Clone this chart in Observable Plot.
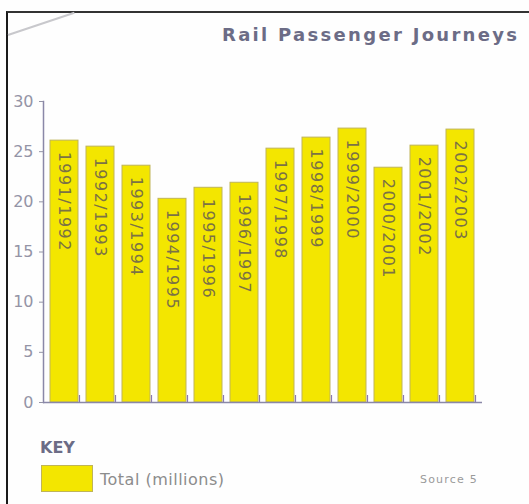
<!DOCTYPE html>
<html>
<head>
<meta charset="utf-8">
<script src="https://cdn.jsdelivr.net/npm/d3@7"></script>
<script src="https://cdn.jsdelivr.net/npm/@observablehq/plot@0.6"></script>
<style>
  html, body { margin: 0; padding: 0; background: #fefefe; overflow: hidden; }
  #wrap { position: relative; width: 529px; height: 504px; overflow: hidden; background: #fefefe; font-family: "DejaVu Sans", sans-serif; }
  #border { position: absolute; left: 6px; top: 11px; width: 600px; height: 600px; border-left: 2px solid #1a1a1a; border-top: 2px solid #333; }
  #diag { position: absolute; left: 8px; top: 34px; width: 70px; height: 2px; background: #c8c8cc; transform-origin: 0 50%; transform: rotate(-18.5deg); }
  #title { position: absolute; left: 222px; top: 25px; font-size: 18px; font-weight: bold; color: #6c6c86; white-space: nowrap; letter-spacing: 2.3px; line-height: 20px; }
  #chart { position: absolute; left: 0; top: 0; }
  #chart g[aria-label="text"] text { letter-spacing: 1.5px; }
  #key { position: absolute; left: 40px; top: 439px; font-size: 16px; font-weight: bold; color: #6c6c86; line-height: 18px; }
  #swatch { position: absolute; left: 41px; top: 465px; width: 50px; height: 25px; background: #f3e600; border: 1px solid #bfb458; }
  #keylabel { position: absolute; left: 100px; top: 470px; font-size: 16px; color: #8c8c8c; letter-spacing: 0.5px; line-height: 20px; white-space: nowrap; }
  #source { position: absolute; left: 420px; top: 473px; font-size: 11px; color: #9a9a9a; letter-spacing: 1.2px; white-space: nowrap; }
</style>
</head>
<body>
<div id="wrap">
  <div id="border"></div>
  <div id="diag"></div>
  <div id="title">Rail Passenger Journeys</div>
  <div id="chart"></div>
  <div id="key">KEY</div>
  <div id="swatch"></div>
  <div id="keylabel">Total (millions)</div>
  <div id="source">Source 5</div>
</div>
<script>
const seasons = ["1991/1992", "1992/1993", "1993/1994", "1994/1995", "1995/1996", "1996/1997",
                 "1997/1998", "1998/1999", "1999/2000", "2000/2001", "2001/2002", "2002/2003"];
const journeys = [26.1, 25.5, 23.6, 20.3, 21.4, 21.9, 25.3, 26.4, 27.3, 23.4, 25.6, 27.2];
const yTicks = [0, 5, 10, 15, 20, 25, 30];

const data = seasons.map((s, i) => ({season: s, value: journeys[i]}));

const chart = Plot.plot({
  width: 529,
  height: 430,
  marginLeft: 43,
  marginRight: 47,
  marginTop: 101,
  marginBottom: 28,
  style: {background: "transparent", fontFamily: "DejaVu Sans", color: "#9494a6", overflow: "visible"},
  x: {domain: seasons, paddingInner: 0.22, paddingOuter: 0.13, axis: null},
  y: {domain: [0, 30], axis: null},
  marks: [
    Plot.barY(data, {x: "season", y: "value", fill: "#f3e600", stroke: "#bfb458", strokeWidth: 1}),
    Plot.text(data, {x: "season", y: "value", text: "season", rotate: 90, textAnchor: "start", dy: 11, fontSize: 16, fill: "#7b7244"}),
    Plot.ruleY([0], {stroke: "#8a88a8", strokeWidth: 1.5}),
    Plot.frame({anchor: "left", stroke: "#8a88a8", strokeWidth: 1.5}),
    Plot.ruleX(data, {x: "season", y1: 0, y2: 0.7, dx: 15, stroke: "#8a7ab0", strokeWidth: 1.2}),
    Plot.axisY({ticks: yTicks, tickSize: 4, tickPadding: 6, fontSize: 16, label: null})
  ]
});
document.getElementById("chart").appendChild(chart);
</script>
</body>
</html>
